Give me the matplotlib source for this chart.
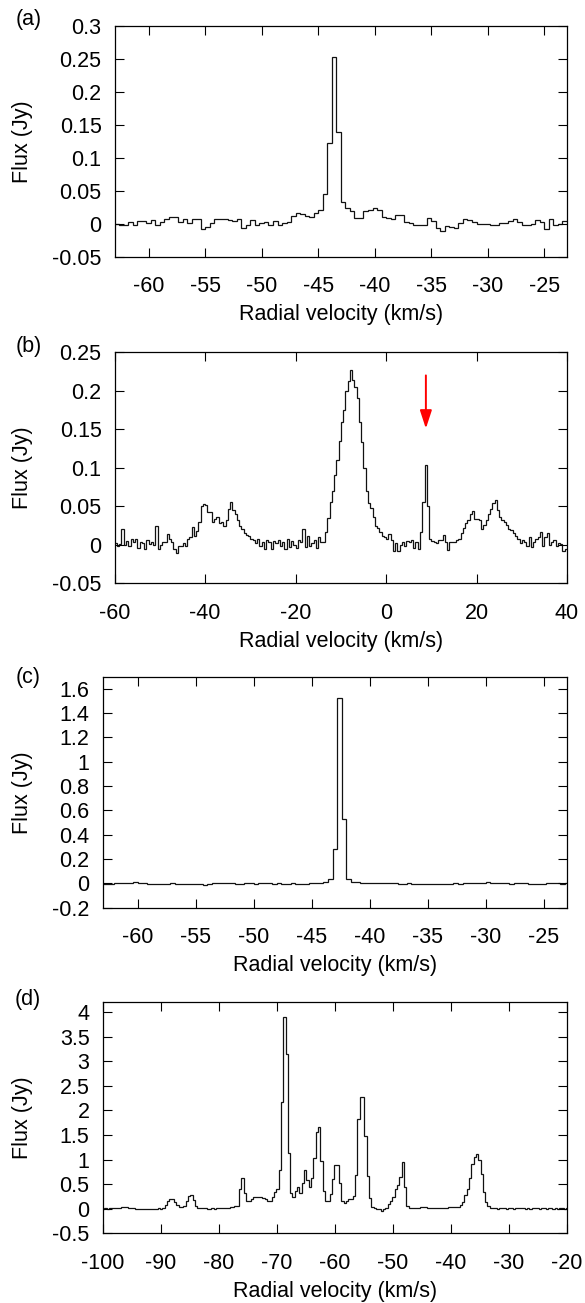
import numpy as np
import matplotlib
matplotlib.use("Agg")
import matplotlib.pyplot as plt
from matplotlib.ticker import MultipleLocator, FormatStrFormatter

plt.rcParams['font.family'] = ['Liberation Sans', 'DejaVu Sans']
plt.rcParams['font.size'] = 15.5
plt.rcParams['axes.unicode_minus'] = False

# ---- data: flux per channel (Jy), channels start at v0 with width dv (km/s)
# (a)
a_v0, a_dv = -63.0, 0.4
flux_a = [0.0, -0.001, -0.002, 0.003, -0.001, 0.005, 0.0045, 0.001, 0.0055, -0.002,
          0.003, 0.007, 0.011, 0.011, 0.003, 0.007, 0.001, 0.008, 0.007, -0.008,
          -0.004, 0.001, 0.007, 0.007, 0.007, 0.006, 0.0045, 0.007, -0.0055, -0.001,
          0.006, -0.001, 0.002, 0.003, -0.001, 0.0045, -0.001, 0.002, 0.003, 0.012,
          0.016, 0.0145, 0.012, 0.011, 0.017, 0.021, 0.045, 0.122, 0.2525, 0.139,
          0.034, 0.024, 0.020, 0.009, 0.009, 0.019, 0.021, 0.025, 0.021, 0.010,
          0.0085, 0.007, 0.0135, 0.0135, 0.003, 0.002, -0.001, -0.002, -0.001, 0.0095,
          0.0045, -0.0055, -0.011, -0.003, -0.0045, -0.0055, 0.002, 0.008, 0.006, 0.003,
          0.0, 0.0, 0.0, -0.001, -0.002, 0.001, 0.001, 0.0045, 0.008, 0.003,
          -0.001, -0.001, 0.0, 0.006, 0.003, -0.007, 0.007, -0.001, 0.0, 0.004]

# (b)
b_v0, b_dv = -60.0, 0.5
flux_b = [0.002, -0.002, 0.001, 0.021, 0.0, 0.005, -0.002, 0.007, 0.003, 0.008,
          -0.004, 0.004, 0.002, -0.005, 0.006, 0.001, 0.003, 0.0, 0.025, -0.006,
          0.0, 0.003, 0.004, 0.014, 0.008, 0.004, -0.005, -0.01, -0.002, -0.001,
          0.002, -0.001, 0.008, 0.010, 0.023, 0.012, 0.018, 0.03, 0.05, 0.053,
          0.052, 0.043, 0.042, 0.03, 0.034, 0.036, 0.028, 0.03, 0.024, 0.032,
          0.047, 0.056, 0.045, 0.04, 0.032, 0.025, 0.021, 0.015, 0.013, 0.012,
          0.008, 0.006, 0.002, 0.007, -0.002, 0.004, -0.006, 0.006, 0.003, -0.005,
          0.005, 0.002, 0.006, -0.002, 0.004, -0.006, 0.008, -0.003, 0.005, 0.0,
          -0.004, 0.006, 0.003, 0.021, -0.003, 0.012, -0.002, 0.002, 0.006, -0.004,
          0.01, 0.004, 0.003, 0.017, 0.035, 0.055, 0.07, 0.09, 0.11, 0.135,
          0.16, 0.175, 0.2, 0.213, 0.227, 0.214, 0.205, 0.19, 0.16, 0.134,
          0.1, 0.07, 0.054, 0.048, 0.036, 0.025, 0.022, 0.017, 0.012, 0.01,
          0.008, 0.014, 0.006, -0.008, 0.002, -0.008, 0.0, 0.004, -0.002, 0.005,
          0.004, 0.006, -0.004, 0.003, -0.005, 0.017, 0.055, 0.103, 0.05, 0.008,
          0.005, 0.004, 0.002, 0.006, 0.006, 0.013, 0.004, -0.007, 0.004, 0.003,
          0.004, 0.006, 0.008, 0.015, 0.022, 0.028, 0.032, 0.04, 0.044, 0.034,
          0.033, 0.032, 0.021, 0.026, 0.032, 0.04, 0.046, 0.054, 0.058, 0.045,
          0.036, 0.032, 0.03, 0.026, 0.02, 0.019, 0.015, 0.012, 0.008, 0.002,
          0.006, 0.004, -0.002, 0.01, -0.003, 0.004, 0.008, 0.01, 0.016, -0.002,
          0.01, 0.015, 0.0, 0.003, 0.006, -0.002, 0.002, 0.001, -0.008, -0.006]
arrow_v = 8.8
arrow_from, arrow_to = 0.22, 0.151

# (c)
c_v0, c_dv = -63.2, 0.4
flux_c = [-0.005, -0.006, -0.003, 0.0, 0.002, 0.003, 0.001, 0.008, 0.0, 0.001,
          -0.002, -0.008, -0.006, -0.005, -0.003, 0.0, -0.002, -0.004, -0.006, -0.006,
          -0.003, -0.008, -0.01, -0.004, 0.0, 0.002, 0.003, 0.004, 0.001, -0.003,
          -0.004, 0.0, 0.002, -0.002, 0.0, 0.003, 0.002, -0.002, 0.001, -0.002,
          -0.001, 0.002, -0.004, -0.008, -0.004, 0.0, 0.002, 0.006, 0.014, 0.036,
          0.285, 1.526, 0.529, 0.04, 0.014, 0.008, 0.004, 0.002, 0.001, 0.0,
          0.002, 0.004, 0.002, 0.0, -0.002, -0.001, 0.001, -0.001, -0.003, -0.006,
          -0.005, -0.003, -0.002, -0.006, -0.004, -0.001, 0.0, -0.002, 0.001, 0.003,
          0.002, 0.004, 0.006, 0.008, 0.004, 0.002, 0.0, 0.001, -0.001, 0.0,
          0.002, 0.0, -0.004, -0.008, -0.006, -0.002, 0.0, 0.002, 0.001, -0.002,
          0.0]

# (d)
d_v0, d_dv = -100.1, 0.4
flux_d = [0.0, 0.005, 0.0, 0.005, 0.005, 0.01, 0.01, 0.02, 0.04, 0.045, 0.03, 0.015, 0.005,
          0.005, 0.0, 0.0, -0.005, 0.0, -0.005, 0.0, 0.0, -0.005, 0.0, 0.0, 0.005, 0.0, 0.01,
          0.08, 0.15, 0.19, 0.19, 0.14, 0.08, 0.04, 0.03, 0.06, 0.15, 0.25, 0.28, 0.18, 0.06,
          0.02, 0.01,
          0.01, 0.005, 0.0, 0.0, 0.005, 0.0, 0.005, 0.01, 0.01, 0.015, 0.02, 0.02, 0.025, 0.04,
          0.06, 0.06, 0.41, 0.63, 0.33, 0.16, 0.16, 0.2, 0.245, 0.245, 0.23, 0.23, 0.22, 0.2,
          0.16, 0.16,
          0.23, 0.35, 0.4, 0.79, 2.18, 3.9, 3.14, 1.13, 0.31, 0.23, 0.37, 0.44, 0.33, 0.52,
          0.78, 0.59, 0.45, 0.63, 1.03, 1.57, 1.67, 0.98, 0.37, 0.16, 0.16, 0.29, 0.6,
          0.89, 0.89, 0.52, 0.16, 0.12, 0.16, 0.19, 0.19, 0.25, 0.69, 1.83, 2.27, 2.27, 1.48,
          0.67, 0.22, 0.03, 0.01, 0.0, 0.0, -0.04, -0.01, 0.02,
          0.09, 0.16, 0.24, 0.41, 0.48, 0.65, 0.95, 0.44, 0.06, 0.02, 0.01,
          0.01, 0.01, 0.01, 0.03, 0.04, 0.04, 0.02, 0.01, 0.01, 0.01, 0.015, 0.015, 0.02,
          0.02, 0.02, 0.025, 0.03,
          0.03, 0.035, 0.04, 0.07, 0.14, 0.27, 0.4, 0.62, 0.9, 1.05, 1.12, 1.0, 0.7, 0.35,
          0.14, 0.05, 0.02, 0.01,
          0.005, 0.0, 0.005, 0.01, 0.005, 0.0, 0.005, 0.005, 0.0, 0.005, 0.01, 0.005, 0.005,
          0.0, 0.005, 0.0, 0.005, 0.01, 0.005, 0.0, 0.005, 0.005, 0.0, 0.005, 0.005, 0.0,
          0.005, 0.0, 0.005, 0.005, 0.0, 0.005]

panel_labels = ["(a)", "(b)", "(c)", "(d)"]

W, H = 585, 1303
fig = plt.figure(figsize=(W / 100, H / 100), dpi=100)


def add_axes_px(left, top, right, bottom):
    return fig.add_axes([left / W, 1 - bottom / H, (right - left) / W, (bottom - top) / H])


def style(ax, xlim, xstep, ylim, ystep, ylab_x):
    ax.set_xlim(*xlim)
    ax.set_ylim(*ylim)
    ax.xaxis.set_major_locator(MultipleLocator(xstep))
    ax.yaxis.set_major_locator(MultipleLocator(ystep))
    ax.xaxis.set_major_formatter(FormatStrFormatter('%g'))
    ax.yaxis.set_major_formatter(FormatStrFormatter('%g'))
    ax.tick_params(direction='in', top=True, right=True, length=6.5, width=0.8)
    ax.tick_params(axis='x', pad=14)
    ax.tick_params(axis='y', pad=9.5)
    for s in ax.spines.values():
        s.set_linewidth(0.9)
    ax.set_xlabel("Radial velocity (km/s)", labelpad=5)
    ax.set_ylabel("Flux (Jy)")
    ax.yaxis.set_label_coords(ylab_x, 0.5)


def spectrum(ax, v0, dv, flux):
    edges = v0 + dv * np.arange(len(flux) + 1)
    ax.stairs(flux, edges, baseline=None, color='#111111', lw=0.9)


rects = [(114.7, 26, 567, 257), (114.7, 352.3, 567, 583.3),
         (102.7, 676.7, 567, 907.7), (102.7, 1002.3, 567, 1233.3)]
axs = [add_axes_px(*r) for r in rects]

spectrum(axs[0], a_v0, a_dv, flux_a)
style(axs[0], (-63, -23), 5, (-0.05, 0.3), 0.05, (33.5 - 114.7) / 452.3)

spectrum(axs[1], b_v0, b_dv, flux_b)
style(axs[1], (-60, 40), 20, (-0.05, 0.25), 0.05, (33.5 - 114.7) / 452.3)
axs[1].annotate("", xy=(arrow_v, arrow_to), xytext=(arrow_v, arrow_from),
                arrowprops=dict(arrowstyle="-|>,head_length=1.1,head_width=0.36",
                                color="red", lw=1.4, mutation_scale=10,
                                shrinkA=0, shrinkB=0))

spectrum(axs[2], c_v0, c_dv, flux_c)
style(axs[2], (-63, -23), 5, (-0.2, 1.7), 0.2, (33.5 - 102.7) / 464.3)

spectrum(axs[3], d_v0, d_dv, flux_d)
style(axs[3], (-100, -20), 10, (-0.5, 4.2), 0.5, (33.5 - 102.7) / 464.3)

label_pos = [(29, 20), (29, 346), (28, 678), (28, 1000)]
for lab, (x, y) in zip(panel_labels, label_pos):
    fig.text(x / W, 1 - y / H, lab, ha='center', va='center')

fig.savefig("out.png", dpi=100)
